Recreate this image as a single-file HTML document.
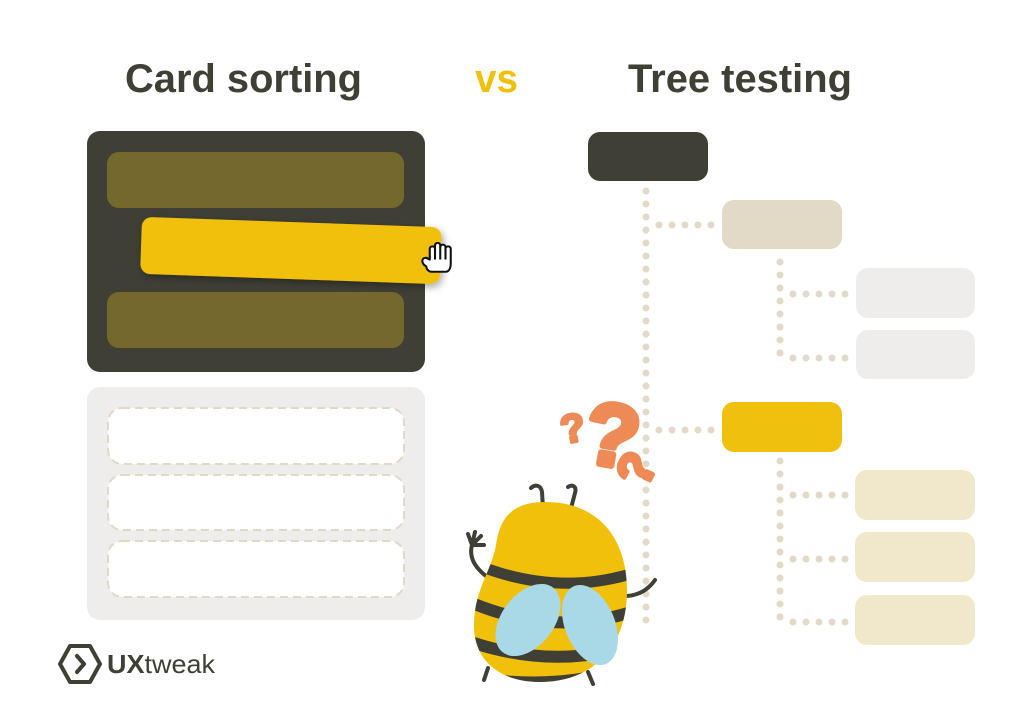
<!DOCTYPE html>
<html><head><meta charset="utf-8"><style>
html,body{margin:0;padding:0;background:#fff;}
svg{display:block;}
</style></head><body>
<svg width="1024" height="717" viewBox="0 0 1024 717" xmlns="http://www.w3.org/2000/svg">
<defs>
<filter id="sh" x="-10%" y="-30%" width="120%" height="160%"><feDropShadow dx="2" dy="3" stdDeviation="4" flood-color="#000" flood-opacity="0.35"/></filter>
<clipPath id="body"><path d="M545,502 C515,502 500,515 496,545 C492,570 474,590 474,625 C474,665 505,682 540,682 C590,682 627,650 627,590 C627,540 600,502 545,502 Z"/></clipPath>
</defs>
<g font-family="'Liberation Sans', sans-serif" font-weight="bold" font-size="40">
<text x="125" y="92" fill="#3f3f35" textLength="237" lengthAdjust="spacingAndGlyphs">Card sorting</text>
<text x="475" y="92" fill="#f0c00a" textLength="43" lengthAdjust="spacingAndGlyphs">vs</text>
<text x="628" y="92" fill="#3f3f35" textLength="224" lengthAdjust="spacingAndGlyphs">Tree testing</text>
</g>
<rect x="87" y="131" width="338" height="241" rx="13" fill="#3f3f35"/>
<rect x="107" y="152" width="297" height="56" rx="12" fill="#75682d"/>
<rect x="107" y="292" width="297" height="56" rx="12" fill="#75682d"/>
<rect x="141" y="222" width="300" height="57" rx="10" fill="#f0c00a" transform="rotate(2 290 250)" filter="url(#sh)"/>
<g transform="translate(421,242) scale(1.75)" stroke="#111" stroke-width="1.2" fill="#fff" stroke-linejoin="round">
<path d="M3,14 C0,12 0,9 3,9 L5,10 L5,4 C5,2 8,2 8,4 L8,2 C8,0 11,0 11,2 L11,3 C11,1 14,1 14,3 L14,4 C14,2 17,2 17,4 L17,12 C17,15 16,17 14,17 L6,17 C4,17 3,15 3,14 Z"/>
<path d="M8,4 L8,10 M11,3 L11,10 M14,4 L14,10" fill="none"/>
</g>
<rect x="87" y="387" width="338" height="233" rx="13" fill="#eeedec"/>
<g fill="#fff" stroke="#e0d8c8" stroke-width="2" stroke-dasharray="8 5">
<rect x="108" y="408" width="296" height="56" rx="14"/>
<rect x="108" y="475" width="296" height="55" rx="14"/>
<rect x="108" y="541" width="296" height="56" rx="14"/>
</g>
<g stroke="#e2d9c9" stroke-width="7" stroke-linecap="round" stroke-dasharray="0 13" fill="none">
<path d="M646,191 L646,632"/>
<path d="M659,225 L722,225"/>
<path d="M659,430 L722,430"/>
<path d="M780,262 L780,357"/>
<path d="M793,294 L856,294"/>
<path d="M793,358 L856,358"/>
<path d="M780,461 L780,620"/>
<path d="M793,495 L856,495"/>
<path d="M793,559 L856,559"/>
<path d="M793,622 L856,622"/>
</g>
<rect x="588" y="132" width="120" height="49" rx="12" fill="#3f3f35"/>
<rect x="722" y="200" width="120" height="49" rx="12" fill="#e2d9c7"/>
<rect x="856" y="268" width="119" height="50" rx="12" fill="#eeedec"/>
<rect x="856" y="330" width="119" height="49" rx="12" fill="#eeedec"/>
<rect x="722" y="402" width="120" height="50" rx="12" fill="#f0c00f"/>
<rect x="855" y="470" width="120" height="50" rx="12" fill="#f1e8cb"/>
<rect x="855" y="532" width="120" height="50" rx="12" fill="#f1e8cb"/>
<rect x="855" y="595" width="120" height="50" rx="12" fill="#f1e8cb"/>
<g font-family="'Liberation Sans', sans-serif" font-weight="bold" fill="#ee8a55" stroke="#ee8a55" stroke-linejoin="round">
<text x="560" y="442" font-size="40" stroke-width="3" transform="rotate(-10 572 425)">?</text>
<text x="586" y="466" font-size="88" stroke-width="6" transform="rotate(10 615 432)">?</text>
<text x="620" y="486" font-size="50" stroke-width="4" transform="rotate(-65 636 468)">?</text>
</g>
<g stroke="#3f3f35" stroke-width="4" stroke-linecap="round" fill="none">
<path d="M543,508 L542,492 C541,485 535,484 531,488"/>
<path d="M570,512 L575,493 C577,486 572,484 568,487"/>
<path d="M496,583 C478,572 468,560 472,545"/>
<path d="M472,545 L468,534 M472,545 L475,532 M472,545 L481,536 M472,545 L484,545"/>
<path d="M624,596 C638,596 648,590 655,580"/>
<path d="M488,668 L484,680"/>
<path d="M588,672 L593,684"/>
</g>
<path d="M545,502 C515,502 500,515 496,545 C492,570 474,590 474,625 C474,665 505,682 540,682 C590,682 627,650 627,590 C627,540 600,502 545,502 Z" fill="#f0c00a"/>
<g clip-path="url(#body)">
<path d="M465,560 Q555,600 640,571" stroke="#3f3f35" stroke-width="11" fill="none"/>
<path d="M465,600 Q555,640 640,609" stroke="#3f3f35" stroke-width="12" fill="none"/>
<path d="M465,640 Q555,672 640,643" stroke="#3f3f35" stroke-width="12" fill="none"/>
<path d="M460,668 Q555,690 650,655 L650,700 L460,700 Z" fill="#3f3f35"/>
</g>
<ellipse cx="528" cy="620" rx="26" ry="41" transform="rotate(38 528 620)" fill="#a9d8e6"/>
<ellipse cx="590" cy="625" rx="25" ry="42" transform="rotate(-22 590 625)" fill="#a9d8e6"/>
<g stroke="#3f3f35" fill="none" stroke-linejoin="round">
<path d="M70,646 L90,646 L100,664 L90,682 L70,682 L60,664 Z" stroke-width="4"/>
<path d="M77,656 L84,664 L77,672" stroke-width="4" stroke-linecap="round"/>
</g>
<text x="107" y="673" font-family="'Liberation Sans', sans-serif" font-size="26" fill="#3f3f35" textLength="108" lengthAdjust="spacingAndGlyphs"><tspan font-weight="bold">UX</tspan>tweak</text>
</svg>
</body></html>
